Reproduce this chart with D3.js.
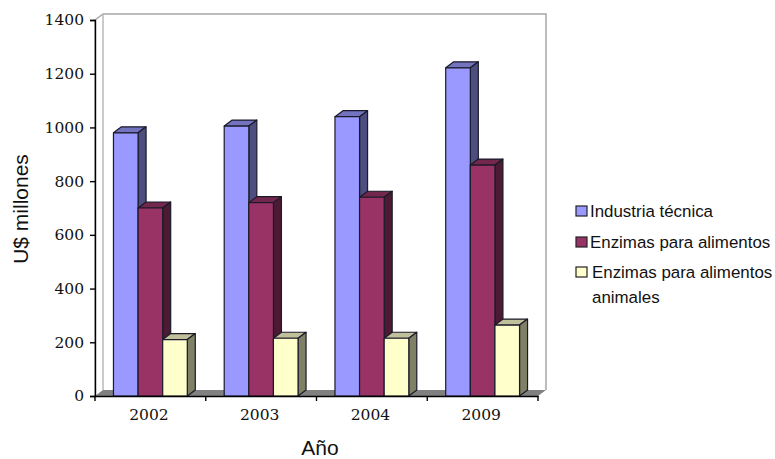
<!DOCTYPE html>
<html><head><meta charset="utf-8">
<script src="https://cdn.jsdelivr.net/npm/d3@7"></script>
<style>html,body{margin:0;padding:0;background:#fff}svg{display:block}</style>
</head><body><svg id="c" width="775" height="459"></svg>
<script>
const years = ["2002","2003","2004","2009"];
const seriesNames = ["Industria técnica","Enzimas para alimentos","Enzimas para alimentos animales"];
const tecnica = [980,1005,1040,1222];
const alimentos = [700,720,740,860];
const animales = [210,215,215,264];
const yTicks = [0,200,400,600,800,1000,1200,1400];
const fronts = ["#9999ff","#993366","#ffffcc"];
const tops = ["#7373c0","#73274d","#c0c09a"];
const sides = ["#4d4d80","#4d1a33","#808066"];

const svg = d3.select("#c");
const x = d3.scaleBand().domain(years).range([95,538]).paddingInner(1/3).paddingOuter(1/6);
const inner = d3.scaleBand().domain([0,1,2]).range([0,x.bandwidth()]);
const y = d3.scaleLinear().domain([0,1400]).range([396,20]);
const dx = 8, dy = 6;
const x0 = 95, x1 = 538, yb = y(0), yt = y(1400);

// walls
svg.append("path").attr("d",`M${x0},${yb}V${yt}L${x0+dx},${yt-dy}H${x1+dx}V${yb-dy}`).attr("fill","none").attr("stroke","#a6a6a6").attr("stroke-width",1.5);
svg.append("path").attr("d",`M${x0+dx},${yt-dy}V${yb-dy}`).attr("stroke","#b8b8b8").attr("stroke-width",1.5);
// floor
svg.append("path").attr("d",`M${x0},${yb}L${x0+dx},${yb-dy}H${x1+dx}L${x1},${yb}Z`).attr("fill","#808080");

// bars, drawn back to front by series order
const series = [tecnica,alimentos,animales];
years.forEach((yr,i)=>{
  series.forEach((vals,s)=>{
    const g = svg.append("g").attr("stroke","#1a1a2a").attr("stroke-width",1.2).attr("stroke-linejoin","round");
    const l = x(yr)+inner(s), w = inner.bandwidth(), t = y(vals[i]);
    g.append("path").attr("d",`M${l},${t}L${l+dx},${t-dy}H${l+w+dx}L${l+w},${t}Z`).attr("fill",tops[s]);
    g.append("path").attr("d",`M${l+w},${t}L${l+w+dx},${t-dy}V${yb-dy}L${l+w},${yb}Z`).attr("fill",sides[s]);
    g.append("rect").attr("x",l).attr("y",t).attr("width",w).attr("height",yb-t).attr("fill",fronts[s]);
  });
});

// axes
const tickFont = "'DejaVu Serif'";
const ay = svg.append("g").attr("transform",`translate(${x0},0)`).call(d3.axisLeft(y).tickValues(yTicks).tickSize(5).tickPadding(6).tickFormat(d3.format("d")));
const ax = svg.append("g").attr("transform",`translate(-1.5,${yb})`).call(d3.axisBottom(x).tickSize(0).tickPadding(13));
[ay,ax].forEach(a=>{a.selectAll("text").attr("font-family",tickFont).attr("font-size",15.5).attr("fill","#111");
  a.selectAll("line,path").attr("stroke","#000").attr("stroke-width",1.4);});
ax.select("path").attr("transform","translate(1.5,0)");
// category boundary ticks
const step = x.step();
svg.selectAll(".ct").data(d3.range(years.length+1)).enter().append("line").attr("class","ct")
  .attr("x1",d=>x0+d*step).attr("x2",d=>x0+d*step).attr("y1",yb).attr("y2",yb+5).attr("stroke","#000").attr("stroke-width",1.4);

// axis titles
svg.append("text").attr("x",320).attr("y",454.5).attr("text-anchor","middle").attr("font-family","'Liberation Sans'").attr("font-size",21).attr("fill","#111").text("Año");
svg.append("text").attr("transform","translate(28,209) rotate(-90)").attr("text-anchor","middle").attr("font-family","'Liberation Sans'").attr("font-size",21).attr("fill","#111").text("U$ millones");

// legend
const lg = svg.append("g").attr("font-family","'Liberation Sans'").attr("font-size",16.9).attr("fill","#111");
const rows = [{s:0,ky:206,tx:590,lines:[seriesNames[0]]},{s:1,ky:237,tx:590,lines:[seriesNames[1]]},{s:2,ky:267,tx:592,lines:["Enzimas para alimentos","animales"]}];
rows.forEach(r=>{
  lg.append("rect").attr("x",576).attr("y",r.ky).attr("width",11).attr("height",10).attr("fill",fronts[r.s]).attr("stroke","#222").attr("stroke-width",1.2);
  r.lines.forEach((t,i)=>lg.append("text").attr("x",r.tx).attr("y",r.ky+11+i*25).text(t));
});
</script></body></html>
